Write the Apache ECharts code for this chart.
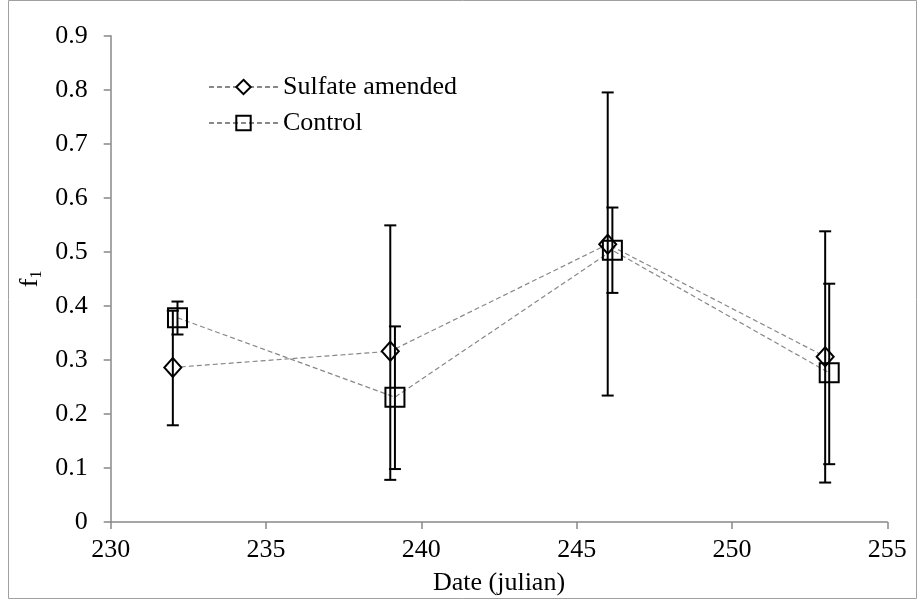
<!DOCTYPE html>
<html>
<head>
<meta charset="utf-8">
<script src="https://cdn.jsdelivr.net/npm/echarts@6/dist/echarts.min.js"></script>
<style>html,body{margin:0;padding:0;background:#fff}#c{width:918px;height:601px}</style>
</head>
<body>
<div id="c"></div>
<script>
var sulfateDates = [232, 239, 246, 253];
var sulfateVals = [0.286, 0.316, 0.514, 0.306];
var sulfateLow = [0.179, 0.078, 0.234, 0.073];
var sulfateHigh = [0.391, 0.549, 0.795, 0.538];

var controlDates = [232.15, 239.15, 246.15, 253.13];
var controlVals = [0.378, 0.231, 0.503, 0.276];
var controlLow = [0.347, 0.098, 0.424, 0.107];
var controlHigh = [0.408, 0.362, 0.582, 0.441];

var FONT = 'Liberation Serif';

function pairs(xs, ys) { return xs.map(function (x, i) { return [x, ys[i]]; }); }
function errData(xs, lo, hi) { return xs.map(function (x, i) { return [x, lo[i], hi[i]]; }); }

function renderErr(params, api) {
  var x = api.value(0);
  var lo = api.coord([x, api.value(1)]);
  var hi = api.coord([x, api.value(2)]);
  var cw = 6;
  var st = { stroke: '#000', lineWidth: 2 };
  return {
    type: 'group',
    children: [
      { type: 'line', shape: { x1: lo[0], y1: lo[1], x2: hi[0], y2: hi[1] }, style: st },
      { type: 'line', shape: { x1: lo[0] - cw, y1: lo[1], x2: lo[0] + cw, y2: lo[1] }, style: st },
      { type: 'line', shape: { x1: hi[0] - cw, y1: hi[1], x2: hi[0] + cw, y2: hi[1] }, style: st }
    ]
  };
}

var chart = echarts.init(document.getElementById('c'), null, { renderer: 'canvas' });
chart.setOption({
  backgroundColor: '#fff',
  animation: false,
  graphic: [{
    type: 'rect', shape: { x: 8.5, y: 0.5, width: 908, height: 598 },
    style: { fill: 'none', stroke: '#a0a0a0', lineWidth: 1 }, silent: true, z: -10
  }],
  grid: { left: 110.7, right: 30.7, top: 35.7, bottom: 76.7 },
  legend: {
    left: 203, top: 69, orient: 'vertical',
    itemWidth: 69, itemHeight: 18, itemGap: 10,
    textStyle: { fontFamily: FONT, fontSize: 26, color: '#000' },
    data: ['Sulfate amended', 'Control']
  },
  xAxis: {
    type: 'value', min: 230, max: 255, interval: 5,
    name: 'Date (julian)', nameLocation: 'middle', nameGap: 48,
    nameTextStyle: { fontFamily: FONT, fontSize: 26, color: '#000' },
    axisLine: { show: true, lineStyle: { color: '#888', width: 1.5 } },
    axisTick: { show: true, length: 7, lineStyle: { color: '#888', width: 1.5 } },
    axisLabel: { fontFamily: FONT, fontSize: 26, color: '#000', margin: 15 },
    splitLine: { show: false }
  },
  yAxis: {
    type: 'value', min: 0, max: 0.9, interval: 0.1,
    name: '{a|f}{b|1}', nameLocation: 'middle', nameGap: 66, nameRotate: 90,
    nameTextStyle: {
      rich: {
        a: { fontFamily: FONT, fontSize: 26, color: '#000' },
        b: { fontFamily: FONT, fontSize: 16, color: '#000', padding: [12, 0, 0, 0] }
      }
    },
    axisLine: { show: true, lineStyle: { color: '#888', width: 1.5 } },
    axisTick: { show: true, length: 7, lineStyle: { color: '#888', width: 1.5 } },
    axisLabel: {
      fontFamily: FONT, fontSize: 26, color: '#000', margin: 23,
      formatter: function (v) { return v === 0 ? '0' : (Math.round(v * 10) / 10).toString(); }
    },
    splitLine: { show: false }
  },
  series: [
    {
      name: 'Sulfate amended', type: 'line', data: pairs(sulfateDates, sulfateVals),
      symbol: 'diamond', symbolSize: [17, 19],
      lineStyle: { color: '#888', width: 1.2, type: [5, 3] },
      itemStyle: { color: '#fff', borderColor: '#000', borderWidth: 2 },
      z: 3
    },
    {
      name: 'Control', type: 'line', data: pairs(controlDates, controlVals),
      symbol: 'rect', symbolSize: 19,
      lineStyle: { color: '#888', width: 1.2, type: [5, 3] },
      itemStyle: { color: 'rgba(255,255,255,0)', borderColor: '#000', borderWidth: 2 },
      z: 3
    },
    {
      name: 'errS', type: 'custom', data: errData(sulfateDates, sulfateLow, sulfateHigh),
      renderItem: renderErr, z: 5, silent: true
    },
    {
      name: 'errC', type: 'custom', data: errData(controlDates, controlLow, controlHigh),
      renderItem: renderErr, z: 5, silent: true
    }
  ]
});
</script>
</body>
</html>
